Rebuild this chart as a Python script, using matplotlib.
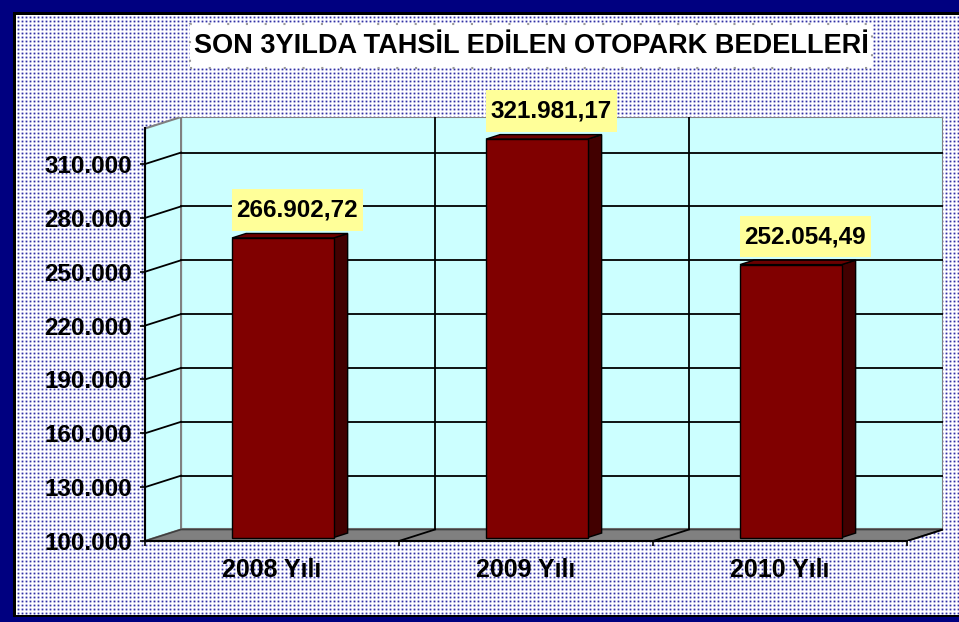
import numpy as np
import matplotlib
matplotlib.use("Agg")
import matplotlib.pyplot as plt
from matplotlib.patches import Polygon
from matplotlib.ticker import FuncFormatter, FixedLocator

# ---- data ----
categories = ["2008 Yılı", "2009 Yılı", "2010 Yılı"]
values = [266902.72, 321981.17, 252054.49]
value_labels = ["266.902,72", "321.981,17", "252.054,49"]
yticks = [100000, 130000, 160000, 190000, 220000, 250000, 280000, 310000]
title = "SON 3YILDA TAHSİL EDİLEN OTOPARK BEDELLERİ"

plt.rcParams['font.family'] = ['Liberation Sans', 'DejaVu Sans']

W, H = 959, 622
fig = plt.figure(figsize=(W / 100 + 1e-6, H / 100 + 1e-6), dpi=100)
fig.patch.set_facecolor('#dcdcf0')

# ---- background: navy frame, black line, dotted pattern ----
bg = np.zeros((H, W, 3), dtype=np.uint8)
bg[:] = (0, 0, 128)
top, left, bottom = 12, 13, 617
bg[top:bottom, left:W] = (0, 0, 0)
pt, pl, pb = 15, 16, 615
Wc = (255, 255, 255)
L = (222, 222, 243)
M = (168, 168, 222)
D = (50, 50, 155)
tile = np.array([
    [Wc, Wc, Wc, Wc],
    [Wc, L, M, L],
    [Wc, M, D, M],
    [Wc, L, M, L],
], dtype=np.uint8)
ph, pw = pb - pt, W - pl
reps = (ph // 4 + 2, pw // 4 + 2, 1)
pat = np.tile(tile, reps)[:ph, :pw]
bg[pt:pb, pl:W] = pat
fig.figimage(bg, 0, 0, zorder=-5)

# ---- axes geometry (front plane) ----
ax_l, ax_r, ax_t, ax_b = 145, 943, 117, 541
ax = fig.add_axes([ax_l / W, (H - ax_b) / H, (ax_r - ax_l) / W, (ax_b - ax_t) / H])
ax.patch.set_visible(False)
for s in ax.spines.values():
    s.set_visible(False)

DX = 36 / 253.7          # depth offset in category units
Y0 = 100000
px_per_unit = 1.795 / 1000
DY = 11.5 / px_per_unit  # depth offset in value units
YTOP = Y0 + (ax_b - ax_t) / px_per_unit
XL, XR = -0.5, 2.5
ax.set_xlim(XL, XR + DX)
ax.set_ylim(Y0, YTOP)

wall = '#CCFFFF'
ax.add_patch(Polygon([(XL + DX, Y0 + DY), (XR + DX, Y0 + DY), (XR + DX, YTOP), (XL + DX, YTOP)],
                     closed=True, facecolor=wall, edgecolor='#808080', lw=1.5, zorder=1))
ax.add_patch(Polygon([(XL, Y0), (XL + DX, Y0 + DY), (XL + DX, YTOP), (XL, YTOP - DY)],
                     closed=True, facecolor=wall, edgecolor='#808080', lw=1.5, zorder=1))
ax.add_patch(Polygon([(XL, Y0), (XR, Y0), (XR + DX, Y0 + DY), (XL + DX, Y0 + DY)],
                     closed=True, facecolor='#808080', edgecolor='#404040', lw=1.2, zorder=2))
ax.plot([XL, XR], [Y0, Y0], color='black', lw=1.5, zorder=3, clip_on=False)

for v in yticks[1:]:
    ax.plot([XL + DX, XR + DX], [v + DY, v + DY], color='black', lw=1.3, zorder=2)
    ax.plot([XL, XL + DX], [v, v + DY], color='black', lw=1.3, zorder=2)

for b in [0.5, 1.5]:
    ax.plot([b + DX, b + DX], [Y0 + DY, YTOP], color='black', lw=1.3, zorder=2)
for b in [0.5, 1.5, XR]:
    ax.plot([b, b + DX], [Y0, Y0 + DY], color='black', lw=1.3, zorder=3)

ax.plot([XL, XL], [Y0, YTOP - DY], color='black', lw=1.5, zorder=3, clip_on=False)

# ---- bars ----
f0, f1 = 0.30, 0.69
hw = 0.2
for i, v in enumerate(values):
    x0, x1 = i - hw, i + hw
    front = [(x0 + f0 * DX, Y0 + f0 * DY), (x1 + f0 * DX, Y0 + f0 * DY),
             (x1 + f0 * DX, v + f0 * DY), (x0 + f0 * DX, v + f0 * DY)]
    side = [(x1 + f0 * DX, Y0 + f0 * DY), (x1 + f1 * DX, Y0 + f1 * DY),
            (x1 + f1 * DX, v + f1 * DY), (x1 + f0 * DX, v + f0 * DY)]
    topf = [(x0 + f0 * DX, v + f0 * DY), (x1 + f0 * DX, v + f0 * DY),
            (x1 + f1 * DX, v + f1 * DY), (x0 + f1 * DX, v + f1 * DY)]
    ax.add_patch(Polygon(side, closed=True, facecolor='#420000', edgecolor='black', lw=1.0, zorder=4))
    ax.add_patch(Polygon(topf, closed=True, facecolor='#6a0000', edgecolor='black', lw=1.0, zorder=4))
    ax.add_patch(Polygon(front, closed=True, facecolor='#800000', edgecolor='black', lw=1.0, zorder=5))
    t = ax.text(i + 0.10, v + 17500, value_labels[i], ha='center', va='center',
                fontsize=17.5, fontweight='bold', color='black', zorder=6, clip_on=False,
                bbox=dict(boxstyle='square,pad=0.2', facecolor='#FFFF99', edgecolor='none'))
    t.get_bbox_patch().set_mutation_aspect(1.9)

# ---- ticks ----
ax.set_yticks(yticks)
ax.yaxis.set_major_formatter(FuncFormatter(lambda v, p: f"{int(v):,}".replace(",", ".")))
ax.tick_params(axis='y', direction='out', length=3.6, width=1.2, color='black', pad=5.6,
               labelsize=17.5)
for lab in ax.get_yticklabels():
    lab.set_fontweight('bold')

ax.set_xticks([0, 1, 2])
ax.set_xticklabels(categories, fontsize=18, fontweight='bold')
ax.tick_params(axis='x', which='major', length=0, pad=12)
ax.xaxis.set_minor_locator(FixedLocator([XL, 0.5, 1.5, XR]))
ax.tick_params(axis='x', which='minor', direction='out', length=3.6, width=1.2, color='black')

# ---- title ----
tt = fig.text(531 / W, (H - 46) / H, title, ha='center', va='center', fontsize=19.5,
              fontweight='bold', color='black',
              bbox=dict(boxstyle='square,pad=0.14', facecolor='white', edgecolor='#9a9a9a',
                        lw=1.5, linestyle=(0, (1, 8))))
tt.get_bbox_patch().set_mutation_aspect(2.4)

fig.savefig('out.png', dpi=100)
